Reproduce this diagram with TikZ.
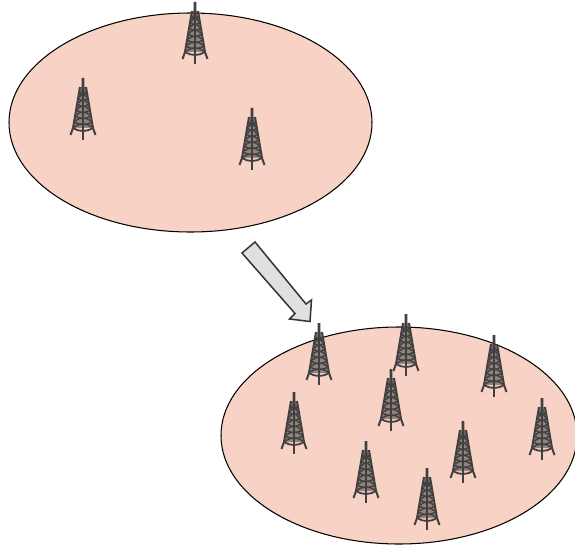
\documentclass[tikz,border=0pt]{standalone}
\definecolor{land}{HTML}{F8D3C5}
\definecolor{mast}{HTML}{404040}
\definecolor{arrowfill}{HTML}{E0E0E0}
\tikzset{
  x=1pt,y=-1pt,
  landarea/.style={draw=black,line width=1.05pt,fill=land},
  bigarrow/.style={draw=black!80,line width=1.5pt,fill=arrowfill,line join=miter},
  lattice/.style={draw=mast,line width=1.5pt},
  tower/.pic={
    \fill[mast] (-1.3,0) -- (1.3,0) -- (1.6,18) -- (-1.6,18) -- cycle;
    \fill[mast,opacity=0.55] (-3,9) -- (3,9) -- (10,50) -- (-10,50) -- cycle;
    \draw[lattice,line width=2pt] (-3,9) -- (-10,50) -- (-12.5,57);
    \draw[lattice,line width=2pt] (3,9) -- (10,50) -- (12.5,57);
    \draw[lattice,line width=2.2pt] (0,9) -- (0,62);
    \foreach \yy/\hw in {14/3.4,20/4.5,26/5.6,32/6.7,38/7.8,44/8.9}{
      \draw[lattice] (-\hw,\yy) .. controls (-\hw*0.4,\yy+3.5) and (\hw*0.4,\yy+3.5) .. (\hw,\yy);
      \draw[lattice] (-\hw,\yy+5) .. controls (-\hw*0.4,\yy+1) and (\hw*0.4,\yy+1) .. (\hw,\yy+5);
    }
    \draw[lattice,line width=1.8pt] (-10,50) .. controls (-4,54) and (4,54) .. (10,50);
  }
}
\begin{document}
\begin{tikzpicture}
\useasboundingbox (0,0) rectangle (575,548);
\clip (0,0) rectangle (575,548);
\fill[white] (0,0) rectangle (575,548);
\draw[landarea] (190.5,122.5) ellipse [x radius=181.5,y radius=109.5];
\draw[landarea] (399,435.5) ellipse [x radius=178,y radius=108.5];
\draw[bigarrow] (242,253) -- (255,242) -- (306,304) -- (311.5,300) -- (310,321.5) -- (289.5,319) -- (295,313.5) -- cycle;
\foreach \px/\py in {195/2,83/78,252/108,319/323,406/314,494/335,391/369,294/392,542/398,463/421,366/441,427/468}
  \pic at (\px,\py) {tower};
\end{tikzpicture}
\end{document}
